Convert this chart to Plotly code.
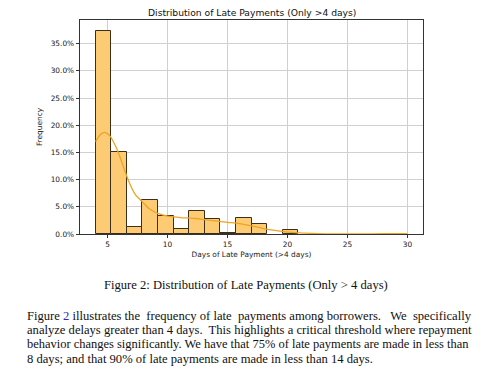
import plotly.graph_objects as go

# ---- data ----
bin_start = 4.0
bin_width = 1.3
bar_density_pct = [37.4, 15.1, 1.3, 6.2, 3.3, 0.85, 4.3, 2.7, 0.1, 2.9,
                   1.8, 0.0, 0.7, 0.0, 0.0, 0.0, 0.0, 0.0, 0.0, 0.05]
kde_x = [4.0, 4.4, 4.75, 5.2, 5.8, 6.3, 6.8, 7.3, 7.9, 8.5, 9.2, 10.0, 10.8,
         11.5, 12.3, 13.2, 14.0, 15.0, 16.0, 17.0, 18.0, 18.8, 19.8, 21.0,
         22.5, 24.0, 26.0, 28.0, 30.0]
kde_y = [17.0, 18.3, 18.7, 18.0, 15.5, 12.5, 9.5, 7.3, 5.9, 4.6, 3.8, 3.3, 3.1,
         2.95, 2.85, 2.6, 2.4, 2.15, 1.9, 1.5, 1.0, 0.7, 0.4, 0.2,
         0.08, 0.03, 0.03, 0.05, 0.05]
x_ticks = [5, 10, 15, 20, 25, 30]
y_ticks = [0, 5, 10, 15, 20, 25, 30, 35]

title_text = "Distribution of Late Payments (Only >4 days)"
x_label = "Days of Late Payment (>4 days)"
y_label = "Frequency"
caption = "Figure 2: Distribution of Late Payments (Only > 4 days)"
paragraph_lines = [
    "Figure <span style='color:#2b2bb8'>2</span> illustrates the  frequency of late  payments among borrowers.   We  specifically",
    "analyze delays greater than 4 days.  This highlights a critical threshold where repayment",
    "behavior changes significantly. We have that 75% of late payments are made in less than",
    "8 days; and that 90% of late payments are made in less than 14 days.",
]
paragraph_sizes = [12.6, 12.6, 12.47, 12.6]

# ---- figure ----
OFF = 8  # default page body margin
W, H = 500 - OFF, 383 - OFF
L, R, T, B = 80 - OFF, 423 - OFF, 20 - OFF, 234 - OFF  # plot area in figure pixels

bar_centers = [bin_start + bin_width * (i + 0.5) for i in range(len(bar_density_pct))]
bar_line_w = [1 if v > 0 else 0 for v in bar_density_pct]

fig = go.Figure()
fig.add_trace(go.Bar(
    x=bar_centers, y=bar_density_pct, width=bin_width,
    marker=dict(color="#FDCB74", line=dict(color="#3b2e1a", width=bar_line_w)),
    hoverinfo="skip",
))
fig.add_trace(go.Scatter(
    x=kde_x, y=kde_y, mode="lines", line=dict(color="#EDA424", width=1.3, shape="spline"),
    hoverinfo="skip",
))

axis_font = dict(family="DejaVu Sans", size=7.4, color="#222")
fig.update_layout(
    width=W, height=H,
    margin=dict(l=L, r=W - R, t=T, b=H - B, autoexpand=False),
    paper_bgcolor="white", plot_bgcolor="white",
    showlegend=False, bargap=0,
    font=dict(family="DejaVu Sans", color="#222"),
    xaxis=dict(
        range=[2.7, 31.3], tickvals=x_ticks, ticks="outside", ticklen=3.5, tickwidth=0.8,
        tickcolor="#333", showline=True, linecolor="#333", linewidth=0.8, mirror=True,
        showgrid=True, gridcolor="#d0d0d0", gridwidth=0.8, zeroline=False,
        tickfont=axis_font, automargin=False,
        title=dict(text=x_label, font=axis_font, standoff=3),
    ),
    yaxis=dict(
        range=[0, 39.36], tickvals=y_ticks, ticktext=[f"{v:.1f}%" for v in y_ticks],
        ticks="outside", ticklen=3.5, tickwidth=0.8, tickcolor="#333",
        showline=True, linecolor="#333", linewidth=0.8, mirror=True,
        showgrid=True, gridcolor="#d0d0d0", gridwidth=0.8, zeroline=False,
        tickfont=axis_font, automargin=False,
        title=dict(text=y_label, font=axis_font, standoff=7),
    ),
)

def px_x(p):
    return (p - OFF - L) / (R - L)

def px_y(p):
    return (B - (p - OFF)) / (B - T)

fig.add_annotation(text=title_text, xref="paper", yref="paper",
                   x=0.5, y=px_y(12), showarrow=False,
                   font=dict(family="DejaVu Sans", size=9.2, color="#111"),
                   xanchor="center", yanchor="middle")

serif_c = dict(family="Liberation Serif", size=12.6, color="#111")
fig.add_annotation(text=caption, xref="paper", yref="paper",
                   x=px_x(245.5), y=px_y(285), showarrow=False, font=serif_c,
                   xanchor="center", yanchor="middle")
line_y = [316, 330.3, 344.3, 358.7]
for txt, yy, sz in zip(paragraph_lines, line_y, paragraph_sizes):
    fig.add_annotation(text=txt, xref="paper", yref="paper",
                       x=px_x(25), y=px_y(yy), showarrow=False,
                       font=dict(family="Liberation Serif", size=sz, color="#111"),
                       xanchor="left", yanchor="middle", align="left")

fig.write_html("out.html")
